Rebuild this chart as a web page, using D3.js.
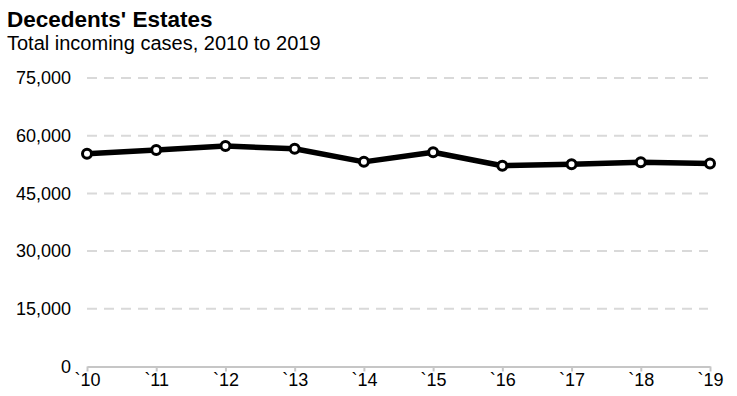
<!DOCTYPE html>
<html>
<head>
<meta charset="utf-8">
<script src="https://cdn.jsdelivr.net/npm/d3@7"></script>
<style>
  html, body { margin: 0; padding: 0; background: #fff; }
  svg { display: block; font-family: "Liberation Sans", Arial, sans-serif; }
</style>
</head>
<body>
<svg id="chart" width="737" height="396"></svg>
<script>
// Decedents' estates, total incoming cases per year
const years = ["`10", "`11", "`12", "`13", "`14", "`15", "`16", "`17", "`18", "`19"];
const cases = [55300, 56300, 57300, 56600, 53200, 55700, 52200, 52600, 53100, 52800];
const yTicks = [0, 15000, 30000, 45000, 60000, 75000];

const svg = d3.select("#chart");
const margin = { left: 87, right: 27, top: 78, bottom: 29.5 };
const W = 737, H = 396;
const FONT = "'Liberation Sans', Arial, sans-serif";

const x = d3.scalePoint().domain(years).range([margin.left, W - margin.right]);
const y = d3.scaleLinear().domain([0, 75000]).range([H - margin.bottom, margin.top]);

// Title block
svg.append("text").attr("x", 7).attr("y", 27)
  .attr("font-size", 22.5).attr("font-weight", "bold").attr("fill", "#000")
  .text("Decedents' Estates");
svg.append("text").attr("x", 7).attr("y", 50)
  .attr("font-size", 20).attr("fill", "#000")
  .text("Total incoming cases, 2010 to 2019");

// Dashed horizontal gridlines
svg.append("g").selectAll("line")
  .data(yTicks.filter(d => d > 0))
  .join("line")
  .attr("x1", margin.left).attr("x2", W - margin.right - 2)
  .attr("y1", d => y(d)).attr("y2", d => y(d))
  .attr("stroke", "#d9d9d9").attr("stroke-width", 2)
  .attr("stroke-dasharray", "10,7");

// Y axis labels
const yAxis = svg.append("g")
  .attr("transform", `translate(${margin.left},0)`)
  .call(d3.axisLeft(y).tickValues(yTicks).tickFormat(d3.format(",")).tickSize(0).tickPadding(16));
yAxis.select(".domain").remove();
yAxis.selectAll("text").attr("font-size", 18).attr("fill", "#000")
  .attr("font-family", FONT);

// X axis
const xAxis = svg.append("g")
  .attr("transform", `translate(0,${y(0)})`)
  .call(d3.axisBottom(x).tickSize(5).tickPadding(2).tickSizeOuter(0));
xAxis.select(".domain").attr("stroke", "#c6c6c6").attr("stroke-width", 2);
xAxis.selectAll(".tick line").attr("stroke", "#c6c6c6").attr("stroke-width", 2);
xAxis.selectAll("text").attr("font-size", 18).attr("fill", "#000")
  .attr("font-family", FONT);

// Series line
const line = d3.line().x((d, i) => x(years[i])).y(d => y(d));
svg.append("path").datum(cases)
  .attr("d", line)
  .attr("fill", "none").attr("stroke", "#000")
  .attr("stroke-width", 5.5).attr("stroke-linejoin", "round");

// Point markers
svg.append("g").selectAll("circle")
  .data(cases)
  .join("circle")
  .attr("cx", (d, i) => x(years[i])).attr("cy", d => y(d))
  .attr("r", 4.5)
  .attr("fill", "#fff").attr("stroke", "#000").attr("stroke-width", 3);
</script>
</body>
</html>
